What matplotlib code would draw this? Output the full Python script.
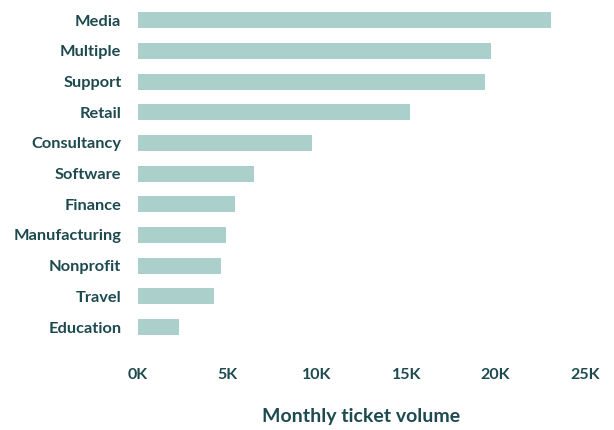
import matplotlib.pyplot as plt

# Monthly ticket volume by industry (thousands)
industries = ['Media', 'Multiple', 'Support', 'Retail', 'Consultancy', 'Software',
              'Finance', 'Manufacturing', 'Nonprofit', 'Travel', 'Education']
volumes = [23.1, 19.75, 19.4, 15.2, 9.75, 6.5, 5.4, 4.9, 4.65, 4.25, 2.3]
xticks = [0, 5, 10, 15, 20, 25]
xtick_labels = ['0K', '5K', '10K', '15K', '20K', '25K']

text_color = '#1d4a4f'
bar_color = '#abcfcb'

plt.rcParams['font.family'] = ['Lato', 'DejaVu Sans']

fig = plt.figure(figsize=(6.14, 4.30), dpi=100)
ax = fig.add_axes([0.2248, 0.2038, 0.728, 0.785])

ypos = list(range(len(industries)))
ax.barh(ypos, volumes, height=0.52, color=bar_color)
ax.set_ylim(len(industries) - 0.5, -0.5)
ax.set_xlim(0, 25)

ax.set_yticks(ypos)
ax.set_yticklabels(industries, fontsize=11.8, fontweight='bold', color=text_color)
ax.set_xticks(xticks)
ax.set_xticklabels(xtick_labels, fontsize=11.5, fontweight='bold', color=text_color)
ax.tick_params(axis='y', length=0, pad=12)
ax.tick_params(axis='x', length=0, pad=18.5)
ax.set_xlabel('Monthly ticket volume', fontsize=14, fontweight='bold',
              color=text_color, labelpad=18.5)

for s in ax.spines.values():
    s.set_visible(False)

plt.savefig('out.png', dpi=100)
